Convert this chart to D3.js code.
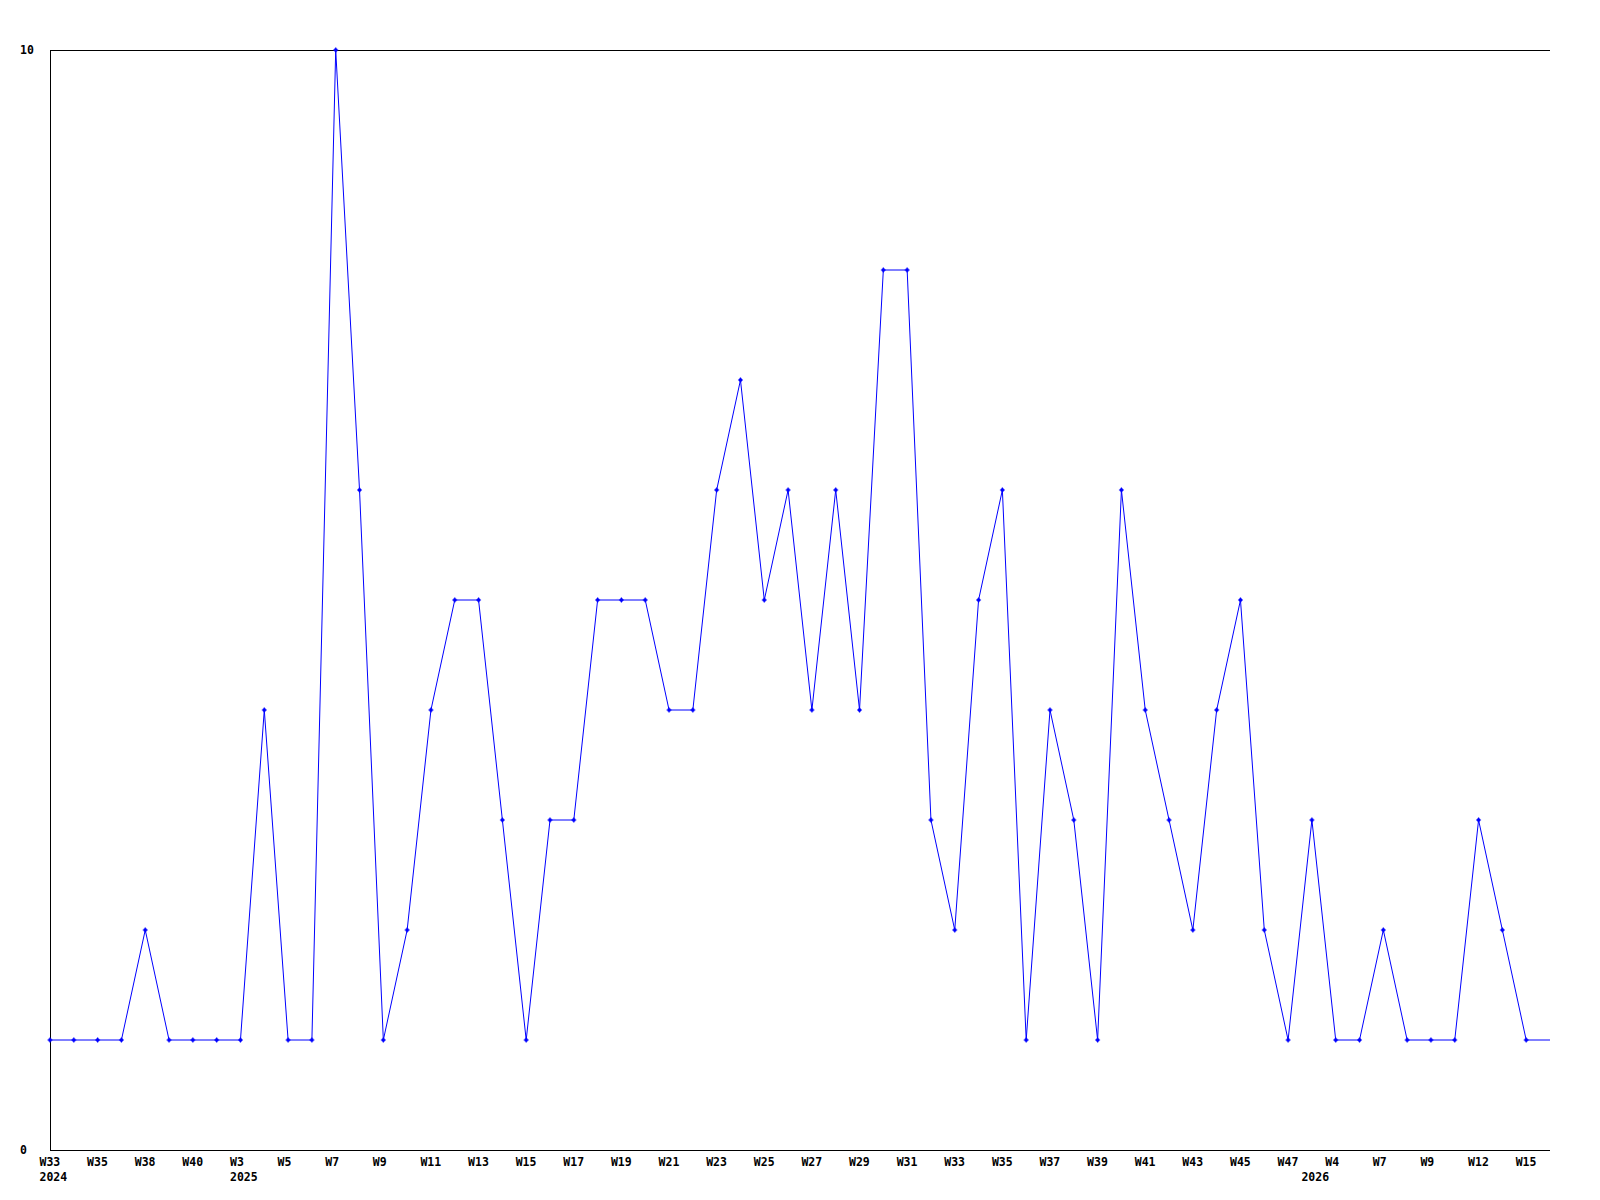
<!DOCTYPE html>
<meta charset="utf-8">
<style>
body { margin: 0; background: #fff; }
text { font-family: "DejaVu Sans Mono", monospace; font-size: 11.5px; font-weight: bold; fill: #000; }
.line { fill: none; stroke: #0000ff; stroke-width: 1px; }
.axis { stroke: #000; stroke-width: 1px; shape-rendering: crispEdges; }
</style>
<script src="https://cdn.jsdelivr.net/npm/d3@7"></script>
<body>
<script>

var width = 1600,
    height = 1200;

// one value per week, last one is the running week (no marker)
var values = [1,1,1,1,2,1,1,1,1,4,1,1,10,6,1,2,4,5,5,3,1,3,3,5,5,5,4,4,6,7,5,6,
              4,6,4,8,8,3,2,5,6,1,4,3,1,6,4,3,2,4,5,2,1,3,1,1,2,1,1,1,3,2,1,1];

// labels on every second week
var weekLabels = ["W33","W35","W38","W40","W3","W5","W7","W9","W11","W13","W15","W17",
                  "W19","W21","W23","W25","W27","W29","W31","W33","W35","W37","W39","W41",
                  "W43","W45","W47","W4","W7","W9","W12","W15"];

var yearIndex = [0, 8, 53];
var yearText = ["2024", "2025", "2026"];

var yTicks = [0, 10];

var svg = d3.select("body")
  .append("svg")
  .attr("width", width)
  .attr("height", height);

var x = d3.scaleLinear()
  .domain([0, values.length - 1])
  .range([50, 1550]);

var y = d3.scaleLinear()
  .domain([0, 10])
  .range([1150, 50]);

// frame: left, bottom and the top line at max
svg.append("line").attr("class", "axis")
  .attr("x1", 50).attr("x2", 50).attr("y1", y(10)).attr("y2", y(0));
svg.append("line").attr("class", "axis")
  .attr("x1", 50).attr("x2", 1550).attr("y1", y(0)).attr("y2", y(0));
svg.append("line").attr("class", "axis")
  .attr("x1", 50).attr("x2", 1550).attr("y1", y(10)).attr("y2", y(10));

svg.selectAll(".ylab")
  .data(yTicks)
  .enter().append("text")
    .attr("class", "ylab")
    .attr("x", 20)
    .attr("y", function(d) { return y(d) + 3.5; })
    .text(function(d) { return d; });

svg.selectAll(".xlab")
  .data(weekLabels)
  .enter().append("text")
    .attr("class", "xlab")
    .attr("x", function(d, i) { return x(i * 2) - 10.5; })
    .attr("y", 1166)
    .text(function(d) { return d; });

svg.selectAll(".year")
  .data(yearText)
  .enter().append("text")
    .attr("class", "year")
    .attr("x", function(d, i) { return x(yearIndex[i]) - 10.5; })
    .attr("y", 1181)
    .text(function(d) { return d; });

var line = d3.line()
  .x(function(d, i) { return x(i); })
  .y(function(d) { return y(d); });

svg.append("path")
  .datum(values)
  .attr("class", "line")
  .attr("d", line);

var marks = svg.selectAll(".mark")
  .data(values.slice(0, values.length - 1))
  .enter().append("g")
    .attr("class", "mark")
    .attr("transform", function(d, i) { return "translate(" + x(i) + "," + y(d) + ")"; });

marks.append("path")
  .attr("d", "M-2.5,0H2.5M0,-2.5V2.5")
  .attr("stroke", "#0000ff")
  .attr("stroke-width", 1.2);
marks.append("rect")
  .attr("x", -1.5).attr("y", -1.5)
  .attr("width", 3).attr("height", 3)
  .attr("fill", "#0000ff");

</script>
</body>
